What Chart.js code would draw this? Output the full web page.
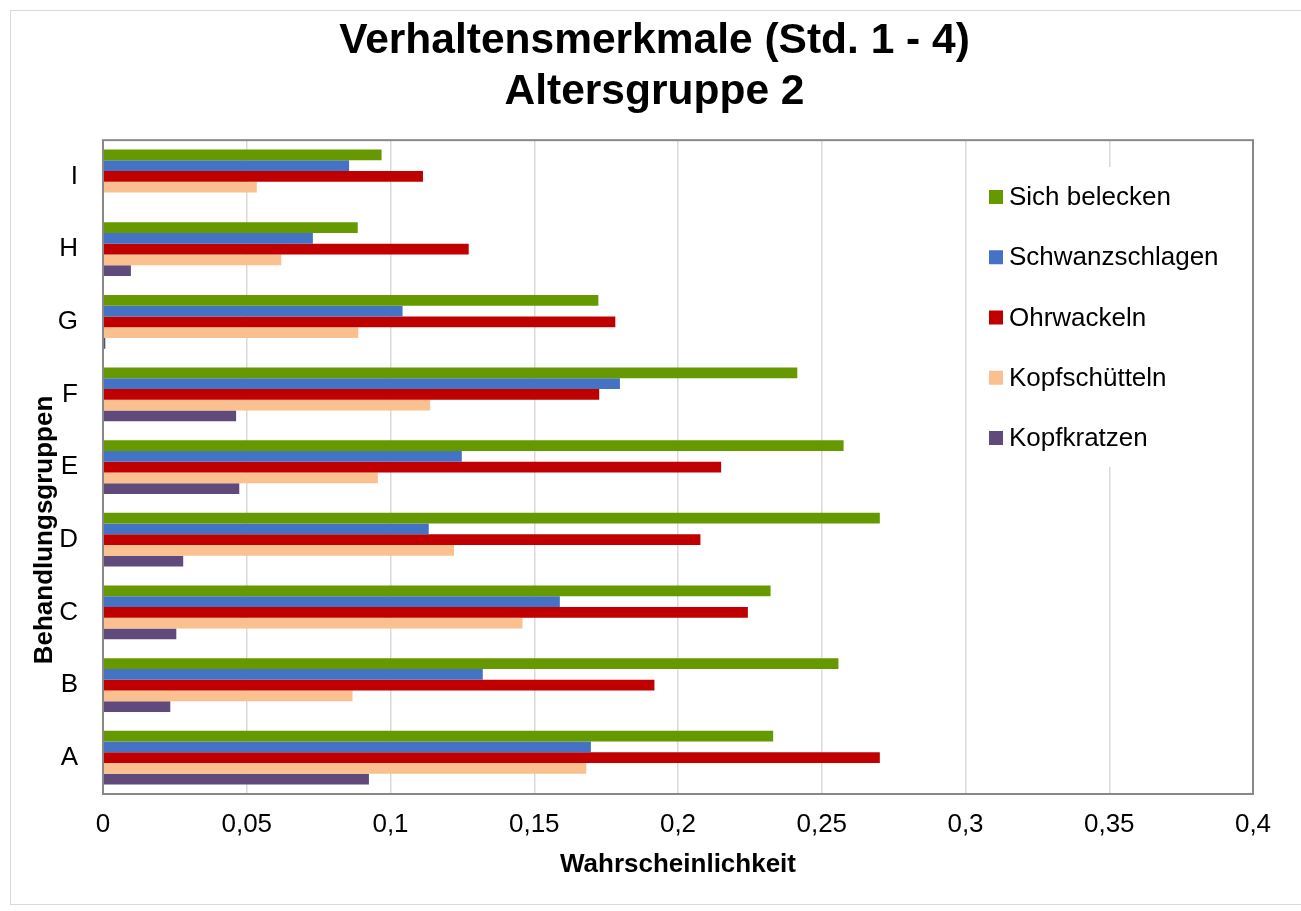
<!DOCTYPE html>
<html>
<head>
<meta charset="utf-8">
<script src="https://cdn.jsdelivr.net/npm/chart.js@4.4.1/dist/chart.umd.min.js"></script>
<style>
  html, body { margin: 0; padding: 0; background: #ffffff; }
  #wrap { position: relative; width: 1301px; height: 911px; overflow: hidden; }
  #frame { position: absolute; left: 10px; top: 10px; width: 1320px; height: 895px; border: 1px solid #d9d9d9; box-sizing: border-box; }
  canvas { position: absolute; left: 0; top: 0; }
</style>
</head>
<body>
<div id="wrap">
  <div id="frame"></div>
  <canvas id="c" width="1301" height="911"></canvas>
</div>
<script>
// Categories listed top to bottom as they appear in the chart
const categories = ['I', 'H', 'G', 'F', 'E', 'D', 'C', 'B', 'A'];

const seriesNames = ['Sich belecken', 'Schwanzschlagen', 'Ohrwackeln', 'Kopfschütteln', 'Kopfkratzen'];
const seriesColors = ['#669900', '#4472C4', '#C00000', '#FAC090', '#604A7B'];

const sichBelecken    = [0.0969, 0.0886, 0.1723, 0.2415, 0.2576, 0.2702, 0.2322, 0.2558, 0.2331];
const schwanzschlagen = [0.0856, 0.0730, 0.1042, 0.1798, 0.1248, 0.1133, 0.1589, 0.1321, 0.1697];
const ohrwackeln      = [0.1113, 0.1272, 0.1782, 0.1726, 0.2150, 0.2078, 0.2243, 0.1918, 0.2702];
const kopfschuetteln  = [0.0535, 0.0620, 0.0888, 0.1138, 0.0956, 0.1221, 0.1459, 0.0868, 0.1681];
const kopfkratzen     = [0.0003, 0.0097, 0.0008, 0.0463, 0.0474, 0.0279, 0.0255, 0.0234, 0.0925];

const xTickLabels = ['0', '0,05', '0,1', '0,15', '0,2', '0,25', '0,3', '0,35', '0,4'];

const chartTitle = ['Verhaltensmerkmale (Std. 1 - 4)', 'Altersgruppe 2'];
const xAxisTitle = 'Wahrscheinlichkeit';
const yAxisTitle = 'Behandlungsgruppen';

const FONT = "'Liberation Sans', Arial, sans-serif";
const seriesValues = [sichBelecken, schwanzschlagen, ohrwackeln, kopfschuetteln, kopfkratzen];

const datasets = seriesNames.map((name, i) => ({
  label: name,
  data: seriesValues[i],
  backgroundColor: seriesColors[i],
  borderWidth: 0,
  categoryPercentage: 0.74,
  barPercentage: 1.0
}));

const frameAndLegend = {
  id: 'frameAndLegend',
  afterDatasetsDraw(chart) {
    const ctx = chart.ctx;
    const a = chart.chartArea;
    ctx.save();
    // plot area border
    ctx.strokeStyle = '#898989';
    ctx.lineWidth = 2;
    ctx.strokeRect(a.left, a.top, a.right - a.left, a.bottom - a.top);

    // legend box inside plot area
    const lx = 975, ly = 167, lw = 270, lh = 300;
    ctx.fillStyle = '#ffffff';
    ctx.fillRect(lx, ly, lw, lh);
    ctx.font = '26px ' + FONT;
    ctx.textBaseline = 'middle';
    ctx.textAlign = 'left';
    chart.data.datasets.forEach((ds, i) => {
      const cy = 197 + i * 60.25;
      ctx.fillStyle = ds.backgroundColor;
      ctx.fillRect(989, cy - 7, 14, 14);
      ctx.fillStyle = '#000000';
      ctx.fillText(ds.label, 1009, cy + 1);
    });

    // y axis title (rotated), positioned like the original
    ctx.translate(45, 530);
    ctx.rotate(-Math.PI / 2);
    ctx.font = 'bold 26px ' + FONT;
    ctx.textAlign = 'center';
    ctx.fillStyle = '#000000';
    ctx.fillText(yAxisTitle, 0, 0);
    ctx.restore();
  }
};

new Chart(document.getElementById('c'), {
  type: 'bar',
  data: { labels: categories, datasets },
  options: {
    indexAxis: 'y',
    responsive: false,
    animation: false,
    layout: { padding: { top: 10, left: 56, right: 48, bottom: 0 } },
    plugins: {
      legend: { display: false },
      tooltip: { enabled: false },
      title: {
        display: true,
        text: chartTitle,
        color: '#000000',
        font: { family: FONT, size: 42.5, weight: 'bold', lineHeight: 1.19 },
        padding: { top: 6, bottom: 23 }
      }
    },
    scales: {
      x: {
        min: 0,
        max: 0.4,
        ticks: {
          stepSize: 0.05,
          color: '#000000',
          font: { family: FONT, size: 26 },
          padding: 15,
          maxRotation: 0,
          autoSkip: false,
          callback: (v, i) => xTickLabels[i]
        },
        grid: { color: '#d9d9d9', lineWidth: 1.5, drawTicks: false },
        border: { display: false },
        title: {
          display: true,
          text: xAxisTitle,
          color: '#000000',
          font: { family: FONT, size: 26, weight: 'bold', lineHeight: 1.2 },
          padding: { top: 0, bottom: 31 }
        },
        afterFit(scale) {
          scale.height = 117;
          scale.paddingLeft = 0;
          scale.paddingRight = 0;
        }
      },
      y: {
        ticks: {
          color: '#000000',
          font: { family: FONT, size: 26 },
          padding: 25
        },
        grid: { display: false, drawTicks: false },
        border: { display: false },
        afterFit(scale) {
          scale.width = 47;
          scale.paddingTop = 0;
          scale.paddingBottom = 0;
        }
      }
    }
  },
  plugins: [frameAndLegend]
});
</script>
</body>
</html>
